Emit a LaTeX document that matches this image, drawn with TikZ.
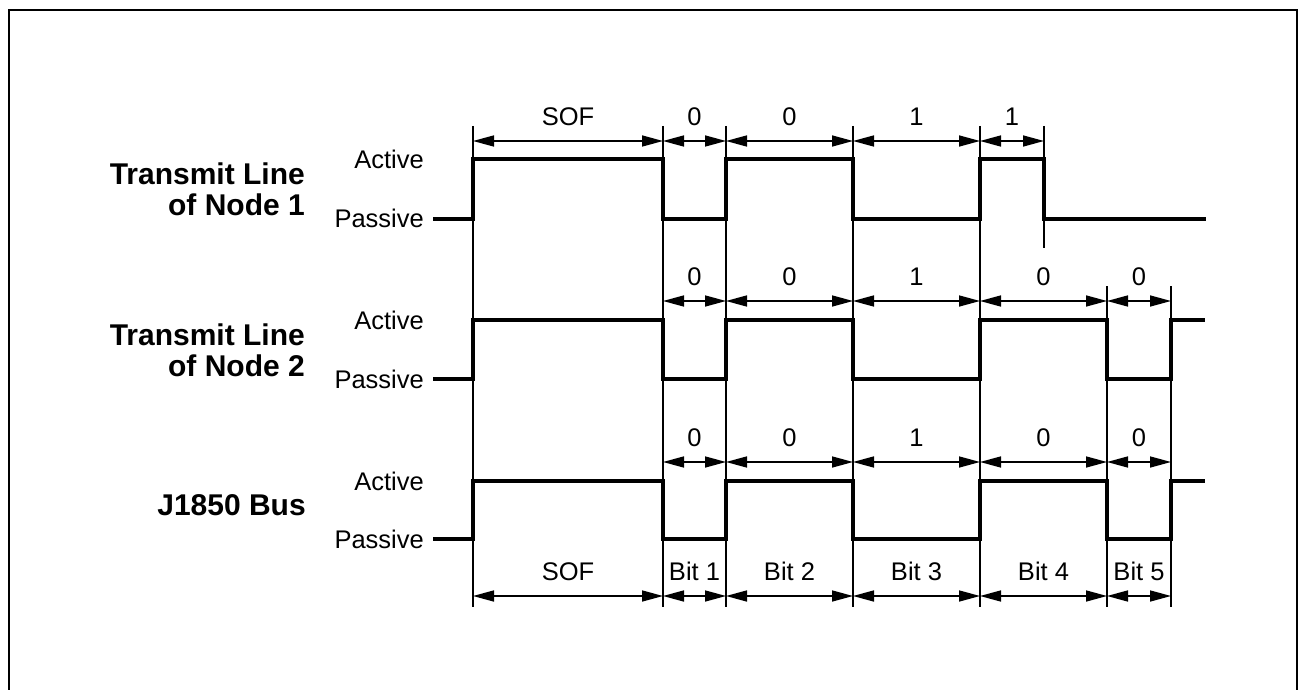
\documentclass[tikz,border=0pt]{standalone}
\usepackage{fontspec}
\setmainfont{Liberation Sans}
\usetikzlibrary{arrows.meta}
\begin{document}
\begin{tikzpicture}[x=1pt,y=-1pt,
  sig/.style={line width=4pt, line join=miter},
  guide/.style={line width=2pt},
  frame/.style={line width=2.2pt},
  dimline/.style={line width=1.6pt, {Triangle[length=21pt,width=11pt]}-{Triangle[length=21pt,width=11pt]}},
  lbl/.style={font=\fontsize{25.5}{30}\selectfont, inner sep=0pt, text height=18pt, text depth=0pt},
  dlbl/.style={lbl, above=15pt},
  lvl/.style={font=\fontsize{25.5}{30}\selectfont, inner sep=0pt, anchor=east},
  rowtitle/.style={font=\fontsize{30}{31}\selectfont\bfseries, align=right, inner sep=0pt, anchor=east}]
\useasboundingbox (0,0) rectangle (1299,690);
% frame
\coordinate (fbl) at (9,720);
\coordinate (ftl) at (9,10);
\coordinate (ftr) at (1297,10);
\coordinate (fbr) at (1297,720);
\draw[frame] (fbl) -- (ftl) -- (ftr) -- (fbr);

% guide lines
\foreach \x/\n/\t/\b in {473/g0/126/607, 663/g1/126/607, 726/g2/126/607, 853/g3/126/607, 980/g4/126/607, 1044/g5/126/248, 1107/g6/286/607, 1171/g7/286/607} {
  \coordinate (\n t) at (\x,\t);
  \coordinate (\n b) at (\x,\b);
  \draw[guide] (\n t) -- (\n b);
}

% dimension coordinates on each row
\foreach \n/\x in {g0/473, g1/663, g2/726, g3/853, g4/980, g5/1044, g6/1107, g7/1171} {
  \coordinate (\n r1) at (\x,141);
  \coordinate (\n r2) at (\x,301);
  \coordinate (\n r3) at (\x,462);
  \coordinate (\n r4) at (\x,596);
}

% row 1 dimensions
\draw[dimline] (g0r1) -- node[dlbl] (l1a) {SOF} (g1r1);
\draw[dimline] (g1r1) -- node[dlbl] (l1b) {0} (g2r1);
\draw[dimline] (g2r1) -- node[dlbl] (l1c) {0} (g3r1);
\draw[dimline] (g3r1) -- node[dlbl] (l1d) {1} (g4r1);
\draw[dimline] (g4r1) -- node[dlbl] (l1e) {1} (g5r1);

% row 2 dimensions
\draw[dimline] (g1r2) -- node[dlbl] (l2a) {0} (g2r2);
\draw[dimline] (g2r2) -- node[dlbl] (l2b) {0} (g3r2);
\draw[dimline] (g3r2) -- node[dlbl] (l2c) {1} (g4r2);
\draw[dimline] (g4r2) -- node[dlbl] (l2d) {0} (g6r2);
\draw[dimline] (g6r2) -- node[dlbl] (l2e) {0} (g7r2);

% row 3 dimensions
\draw[dimline] (g1r3) -- node[dlbl] (l3a) {0} (g2r3);
\draw[dimline] (g2r3) -- node[dlbl] (l3b) {0} (g3r3);
\draw[dimline] (g3r3) -- node[dlbl] (l3c) {1} (g4r3);
\draw[dimline] (g4r3) -- node[dlbl] (l3d) {0} (g6r3);
\draw[dimline] (g6r3) -- node[dlbl] (l3e) {0} (g7r3);

% bottom dimensions
\draw[dimline] (g0r4) -- node[dlbl] (b0) {SOF} (g1r4);
\draw[dimline] (g1r4) -- node[dlbl] (b1) {Bit 1} (g2r4);
\draw[dimline] (g2r4) -- node[dlbl] (b2) {Bit 2} (g3r4);
\draw[dimline] (g3r4) -- node[dlbl] (b3) {Bit 3} (g4r4);
\draw[dimline] (g4r4) -- node[dlbl] (b4) {Bit 4} (g6r4);
\draw[dimline] (g6r4) -- node[dlbl] (b5) {Bit 5} (g7r4);

% signals
\draw[sig] (433,219) -| (473,159) -| (663,219) -| (726,159) -| (853,219) -| (980,159) -| (1044,219) -- (1206,219);
\draw[sig] (433,379) -| (473,320) -| (663,379) -| (726,320) -| (853,379) -| (980,320) -| (1107,379) -| (1171,320) -- (1205,320);
\draw[sig] (433,539) -| (473,481) -| (663,539) -| (726,481) -| (853,539) -| (980,481) -| (1107,539) -| (1171,481) -- (1205,481);

% level labels
\node[lvl] (a1) at (424,159) {Active};
\node[lvl] (p1) at (424,218) {Passive};
\node[lvl] (a2) at (424,320) {Active};
\node[lvl] (p2) at (424,379) {Passive};
\node[lvl] (a3) at (424,481) {Active};
\node[lvl] (p3) at (424,539) {Passive};

% row titles
\node[rowtitle] (t1) at (305,189) {Transmit Line\\of Node 1};
\node[rowtitle] (t2) at (305,350) {Transmit Line\\of Node 2};
\node[rowtitle] (t3) at (306,505) {J1850 Bus};
\end{tikzpicture}
\end{document}
